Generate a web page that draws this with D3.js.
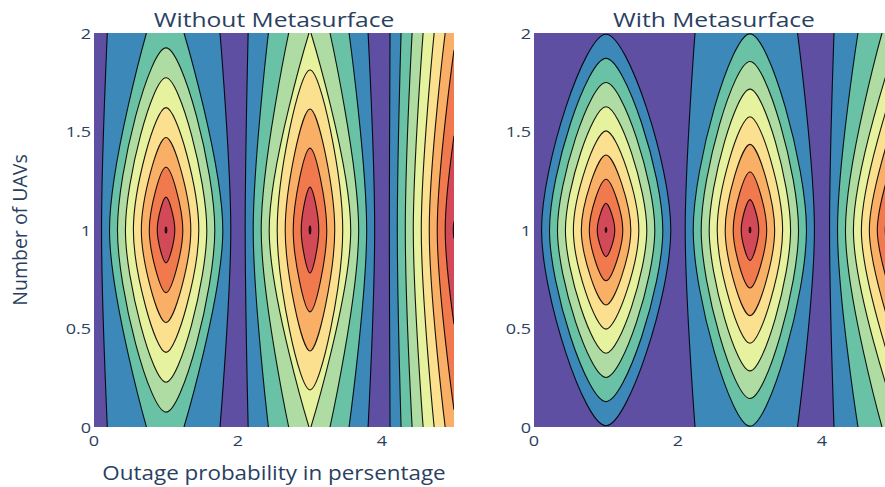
<!DOCTYPE html>
<html><head><meta charset="utf-8">
<script src="https://cdn.jsdelivr.net/npm/d3@7"></script>
<style>
body{margin:0;background:#fff;overflow:hidden}
text{font-family:"Open Sans",sans-serif;fill:#2a3f5f}
</style>
</head><body><svg id="chart" width="885" height="487"></svg>
<script>
// ---------------- data ----------------
const xValues = [0, 1, 2, 3, 4, 5];          // outage probability grid
const yValues = [0, 1, 2];                   // number of UAVs grid
const zWithout = [
  [0.66, 2.5, 0.5, 4.05, 0.27, 6.8],
  [0.05, 9.1, 0.1, 9.1, 0.08, 9.1],
  [0.66, 2.5, 0.5, 4.05, 0.27, 6.8]
];
const zWith = [
  [0.3, 0.95, 0.7, 1.97, 0.5, 3.5],
  [0.05, 9.1, 0.1, 9.1, 0.05, 9.1],
  [0.3, 0.95, 0.7, 1.97, 0.5, 3.5]
];
const levels = [1, 2, 3, 4, 5, 6, 7, 8, 9];
const bandColors = ["#5e4fa2", "#3c88b8", "#69c2a5", "#afdca2", "#e6f29e",
                    "#fbe08f", "#f9b066", "#f07a4d", "#d24a57", "#9e0142"];
const xTicks = [0, 2, 4];
const yTicks = [0, 0.5, 1, 1.5, 2];
const titles = ["Without Metasurface", "With Metasurface"];
const xTitle = "Outage probability in persentage";
const yTitle = "Number of UAVs";

// ---------------- layout ----------------
const svg = d3.select("#chart");
const panels = [
  {z: zWithout, title: titles[0], x0: 94, x1: 454},
  {z: zWith, title: titles[1], x0: 534, x1: 894}
];
const Y0 = 427, Y1 = 33;

function addText(g, x, y, str, size, anchor, sx, rot) {
  return g.append("text")
    .attr("transform", `translate(${x},${y})` + (rot ? ` rotate(${rot})` : "") + ` scale(${sx},1)`)
    .attr("text-anchor", anchor).attr("font-size", size).text(str);
}

// ---------------- contouring (marching squares, oriented) ----------------
function contourLevel(xs, ys, z, L) {
  const nx = xs.length, ny = ys.length;
  const hi = (i, j) => z[j][i] >= L;
  const pts = {};
  function ep(key) {
    if (pts[key]) return pts[key];
    const horiz = key[0] === "h";
    const [i, j] = key.slice(1).split("_").map(Number);
    const i1 = horiz ? i + 1 : i, j1 = horiz ? j : j + 1;
    const z0 = z[j][i], z1 = z[j1][i1];
    const t = (L - z0) / (z1 - z0);
    return (pts[key] = [xs[i] + t * (xs[i1] - xs[i]), ys[j] + t * (ys[j1] - ys[j])]);
  }
  const segs = [];
  for (let j = 0; j < ny - 1; j++) for (let i = 0; i < nx - 1; i++) {
    const c = [[i, j], [i + 1, j], [i + 1, j + 1], [i, j + 1]];
    const keys = [`h${i}_${j}`, `v${i + 1}_${j}`, `h${i}_${j + 1}`, `v${i}_${j}`];
    const cr = [];
    for (let k = 0; k < 4; k++) {
      const a = c[k], b = c[(k + 1) % 4];
      const ha = hi(a[0], a[1]), hb = hi(b[0], b[1]);
      if (ha !== hb) { ep(keys[k]); cr.push({key: keys[k], up: hb}); }
    }
    if (cr.length === 2) {
      const d = cr.find(q => !q.up), u = cr.find(q => q.up);
      segs.push({s: d.key, e: u.key});
    } else if (cr.length === 4) {
      const center = (z[j][i] + z[j][i + 1] + z[j + 1][i + 1] + z[j + 1][i]) / 4;
      const conn = center >= L;
      for (let k = 0; k < 4; k++) if (!cr[k].up) {
        const u = conn ? cr[(k + 1) % 4] : cr[(k + 3) % 4];
        segs.push({s: cr[k].key, e: u.key});
      }
    }
  }
  const byStart = new Map(segs.map(s => [s.s, s]));
  const endKeys = new Set(segs.map(s => s.e));
  const used = new Set();
  const open = [], closed = [];
  for (const s of segs) if (!endKeys.has(s.s)) {
    const path = [s.s]; let cur = s;
    while (cur && !used.has(cur)) { used.add(cur); path.push(cur.e); cur = byStart.get(cur.e); }
    open.push(path.map(ep));
  }
  for (const s of segs) if (!used.has(s)) {
    const path = [s.s]; let cur = s;
    while (cur && !used.has(cur)) { used.add(cur); path.push(cur.e); cur = byStart.get(cur.e); }
    path.pop();
    closed.push(path.map(ep));
  }
  return {open, closed, boundaryHigh: hi(0, 0)};
}

const lineOpen = d3.line().curve(d3.curveCatmullRom.alpha(0.5));
const lineClosed = d3.line().curve(d3.curveCatmullRomClosed.alpha(0.5));

panels.forEach((p, pi) => {
  const x = d3.scaleLinear().domain([xValues[0], xValues[xValues.length - 1]]).range([p.x0, p.x1]);
  const y = d3.scaleLinear().domain([yValues[0], yValues[yValues.length - 1]]).range([Y0, Y1]);
  const px = q => [x(q[0]), y(q[1])];
  const X0d = xValues[0], X1d = xValues[xValues.length - 1];
  const Y0d = yValues[0], Y1d = yValues[yValues.length - 1];
  const W = X1d - X0d, H = Y1d - Y0d, P = 2 * W + 2 * H;
  const eps = 1e-9;
  const perim = ([a, b]) => {
    if (Math.abs(b - Y0d) < eps) return a - X0d;
    if (Math.abs(a - X1d) < eps) return W + (b - Y0d);
    if (Math.abs(b - Y1d) < eps) return W + H + (X1d - a);
    return 2 * W + H + (Y1d - b);
  };
  const corners = [
    {s: 0, p: [X0d, Y0d]}, {s: W, p: [X1d, Y0d]},
    {s: W + H, p: [X1d, Y1d]}, {s: 2 * W + H, p: [X0d, Y1d]}
  ];

  const clipId = "clip" + pi;
  svg.append("clipPath").attr("id", clipId).append("rect")
    .attr("x", p.x0).attr("y", Y1).attr("width", p.x1 - p.x0).attr("height", Y0 - Y1);
  const g = svg.append("g").attr("clip-path", `url(#${clipId})`);

  g.append("rect").attr("x", p.x0).attr("y", Y1).attr("width", p.x1 - p.x0)
    .attr("height", Y0 - Y1).attr("fill", bandColors[0]);

  const all = levels.map(L => contourLevel(xValues, yValues, p.z, L));

  all.forEach((c, li) => {
    let d = "";
    const items = c.open.map(pts => ({pts, s0: perim(pts[0]), s1: perim(pts[pts.length - 1]), used: false}));
    for (const st of items) if (!st.used) {
      let cur = st, first = true;
      while (!cur.used) {
        cur.used = true;
        let s = lineOpen(cur.pts.map(px));
        if (!first) s = "L" + s.slice(1);
        d += s; first = false;
        let best = null, bd = Infinity;
        for (const r of items) { let dd = r.s0 - cur.s1; if (dd < 0) dd += P; if (dd < bd) { bd = dd; best = r; } }
        const cs = [];
        for (const cn of corners) { let dd = cn.s - cur.s1; if (dd <= 0) dd += P; if (dd < bd) cs.push({dd, p: cn.p}); }
        cs.sort((a, b) => a.dd - b.dd);
        for (const cn of cs) { const q = px(cn.p); d += `L${q[0]},${q[1]}`; }
        cur = best;
      }
      d += "Z";
    }
    if (!c.open.length && c.boundaryHigh) {
      d += "M" + corners.map(cn => px(cn.p).join(",")).join("L") + "Z";
    }
    for (const cl of c.closed) d += lineClosed(cl.map(px));
    if (d) g.append("path").attr("d", d).attr("fill", bandColors[li + 1]).attr("fill-rule", "nonzero");
  });

  all.forEach(c => {
    c.open.forEach(pts => g.append("path").attr("d", lineOpen(pts.map(px)))
      .attr("fill", "none").attr("stroke", "#000").attr("stroke-width", 1.1).attr("stroke-opacity", 0.9));
    c.closed.forEach(pts => g.append("path").attr("d", lineClosed(pts.map(px)))
      .attr("fill", "none").attr("stroke", "#000").attr("stroke-width", 1.1).attr("stroke-opacity", 0.9));
  });

  // axes labels
  const ax = svg.append("g");
  xTicks.forEach(v => addText(ax, x(v), 446, String(v), 15, "middle", 1.2));
  yTicks.forEach(v => addText(ax, p.x0 - 3, y(v) + 5.5, String(v), 15, "end", 1.2));
  addText(ax, (p.x0 + p.x1) / 2, 27, p.title, 20.5, "middle", 1.2);
});

addText(svg, 274, 480, xTitle, 19.5, "middle", 1.15);
addText(svg, 27, 230, yTitle, 19.5, "middle", 1, -90);
</script>
</body></html>
